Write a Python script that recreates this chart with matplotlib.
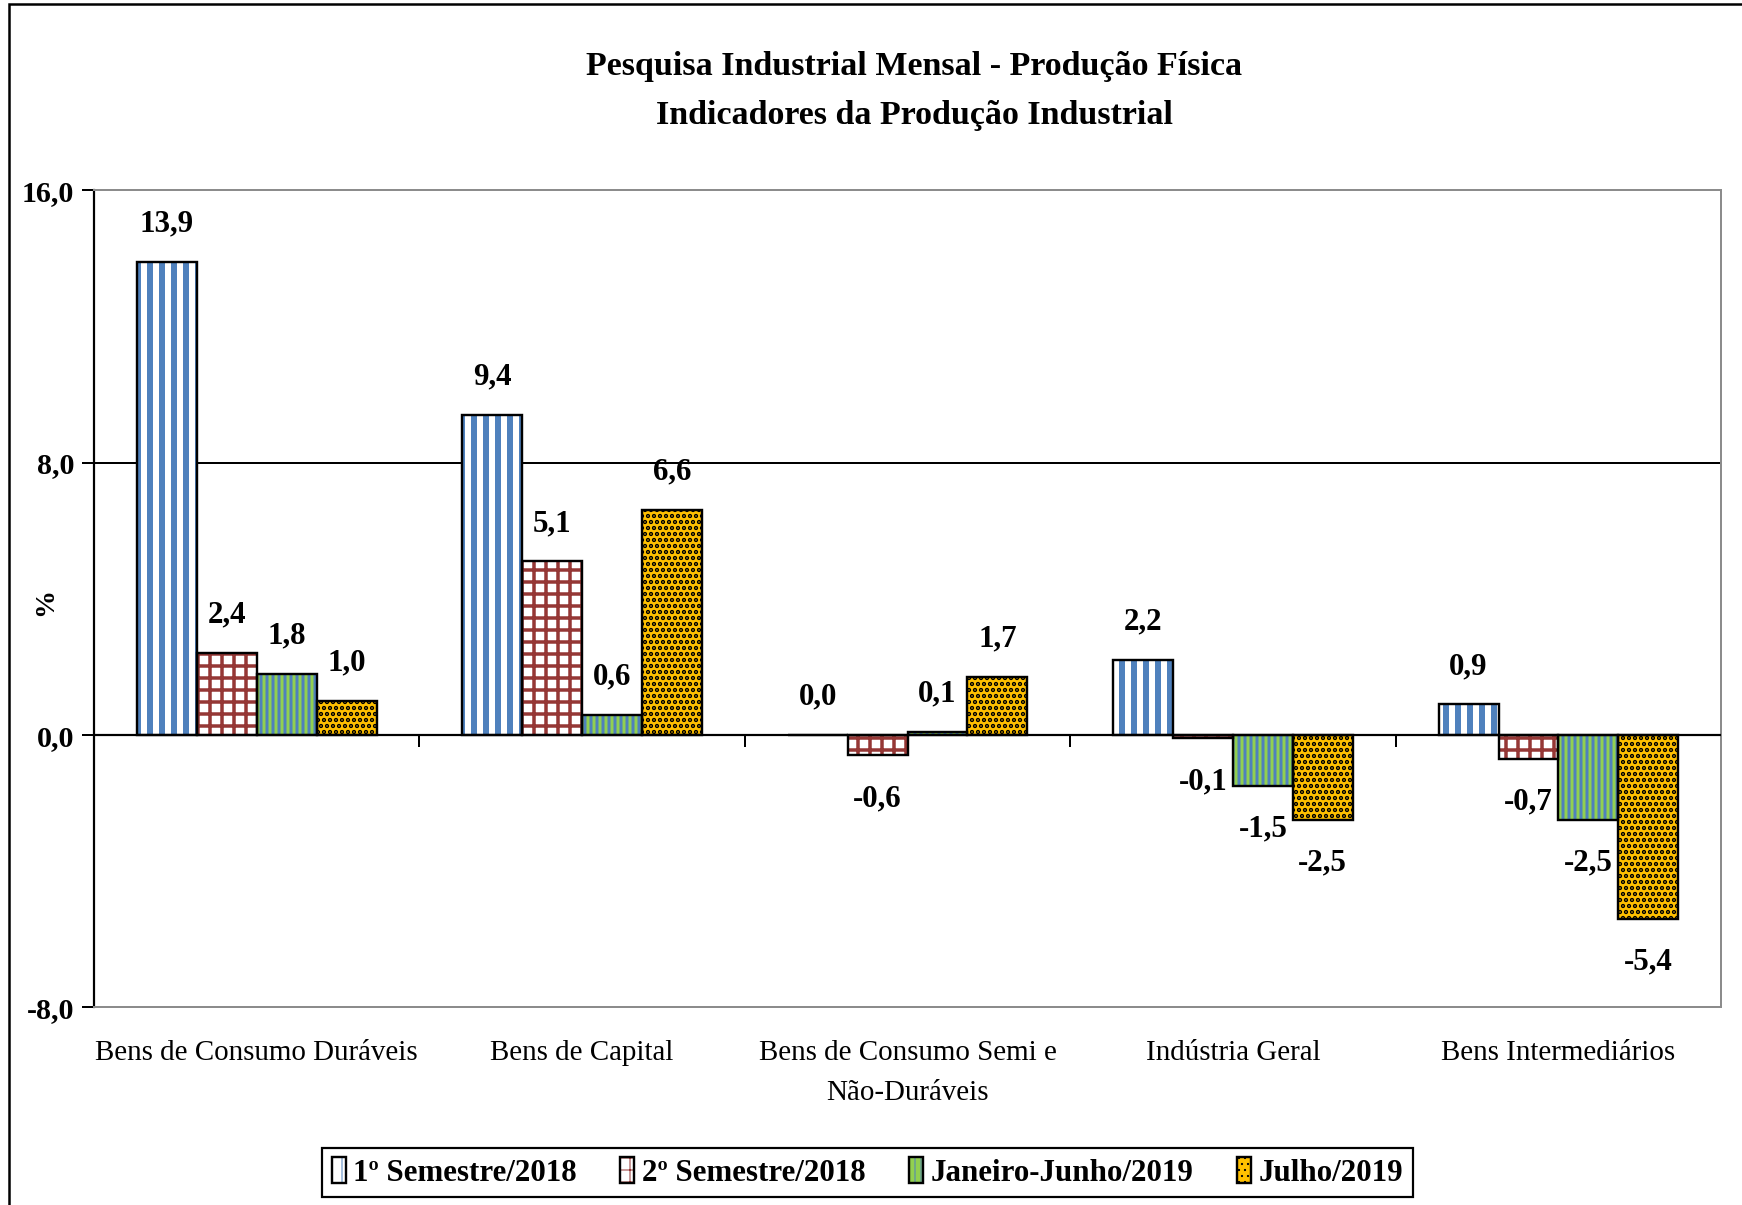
import numpy as np
import matplotlib
matplotlib.use("Agg")
import matplotlib.pyplot as plt
import matplotlib.patches as patches
from matplotlib.legend_handler import HandlerTuple

# data
categories = ["Bens de Consumo Duráveis", "Bens de Capital",
              "Bens de Consumo Semi e\nNão-Duráveis", "Indústria Geral",
              "Bens Intermediários"]
series_names = ["1º Semestre/2018", "2º Semestre/2018",
                "Janeiro-Junho/2019", "Julho/2019"]
sem1_2018 = [13.9, 9.4, 0.0, 2.2, 0.9]
sem2_2018 = [2.4, 5.1, -0.6, -0.1, -0.7]
jan_jun_2019 = [1.8, 0.6, 0.1, -1.5, -2.5]
jul_2019 = [1.0, 6.6, 1.7, -2.5, -5.4]
yticks = [-8.0, 0.0, 8.0, 16.0]

# face, hatch colour, hatch, hatch linewidth
styles = [
    ("white", "#4F81BD", "|", 6.0),
    ("white", "#953735", "+", 3.5),
    ("#92D050", "#4F81BD", "||", 3.0),
    ("#FFC000", "black", "..", 3.0),
]

plt.rcParams["font.family"] = ["Liberation Serif", "DejaVu Serif"]

DPI = 72
fig = plt.figure(figsize=(1742 / DPI, 1205 / DPI), dpi=DPI)
ax = fig.add_axes([0.054, 0.164, 0.934, 0.678])

x = np.arange(len(categories))
width = 0.184
values = [sem1_2018, sem2_2018, jan_jun_2019, jul_2019]
handles = []
for i, (vals, (fc, hc, hatch, hlw)) in enumerate(zip(values, styles)):
    pos = x + (i - 1.5) * width
    with plt.rc_context({"hatch.linewidth": hlw}):
        hb = ax.bar(pos, vals, width, color=fc, edgecolor=hc, hatch=hatch,
                    linewidth=0, zorder=2)
    for p in hb:
        if hasattr(p, "set_hatch_linewidth"):
            p.set_hatch_linewidth(hlw)
    ob = ax.bar(pos, vals, width, facecolor="none", edgecolor="black",
                linewidth=2.4, zorder=5)
    handles.append((hb, ob))
    for xp, v in zip(pos, vals):
        lab = f"{v:.1f}".replace(".", ",")
        off = 38 if v >= 0 else -43
        ax.annotate(lab, (xp, v), xytext=(0, off), textcoords="offset points",
                    ha="center", va="center", fontsize=31, fontweight="bold")

ax.set_xlim(-0.5, len(categories) - 0.5)
ax.set_ylim(-8, 16)
ax.set_yticks(yticks)
ax.set_yticklabels([f"{t:.1f}".replace(".", ",") for t in yticks],
                   fontsize=30, fontweight="bold")
ax.tick_params(axis="y", length=12, width=2, pad=8)
ax.set_xticks(x)
ax.set_xticklabels(categories, fontsize=29, linespacing=1.7)
ax.tick_params(axis="x", length=0, pad=33)
ax.axhline(8, color="black", lw=2, zorder=1)
ax.axhline(0, color="black", lw=2.2, zorder=4)

for s in ["top", "right", "bottom"]:
    ax.spines[s].set_color("#8C8C8C")
    ax.spines[s].set_linewidth(2)
ax.spines["left"].set_color("black")
ax.spines["left"].set_linewidth(2.2)

# tick marks between the groups on the zero line
sec = ax.secondary_xaxis(1 / 3)
sec.set_xticks(x[:-1] + 0.5)
sec.set_xticklabels([])
sec.tick_params(length=12, width=2, direction="out")
sec.spines["bottom"].set_visible(False)

fig.text(0.026, 0.50, "%", rotation=90, fontsize=28, fontweight="bold",
         ha="center", va="center")

fig.text(0.525, 0.945, "Pesquisa Industrial Mensal - Produção Física",
         ha="center", va="center", fontsize=34, fontweight="bold")
fig.text(0.525, 0.904, "Indicadores da Produção Industrial",
         ha="center", va="center", fontsize=34, fontweight="bold")

leg = fig.legend(handles, series_names, loc="center",
                 bbox_to_anchor=(0.498, 0.027), ncol=4,
                 handler_map={tuple: HandlerTuple(ndivide=1)},
                 prop={"size": 31, "weight": "bold"},
                 handlelength=0.45, handleheight=0.9, handletextpad=0.25,
                 columnspacing=1.4, borderpad=0.3, fancybox=False,
                 edgecolor="black", framealpha=1)
leg.get_frame().set_linewidth(2.2)

fig.patches.append(patches.Rectangle((0.005, -0.05), 1.2, 1.047,
                                     transform=fig.transFigure, fill=False,
                                     edgecolor="black", linewidth=2.5))

fig.savefig("out.png", dpi=DPI, facecolor="white")
